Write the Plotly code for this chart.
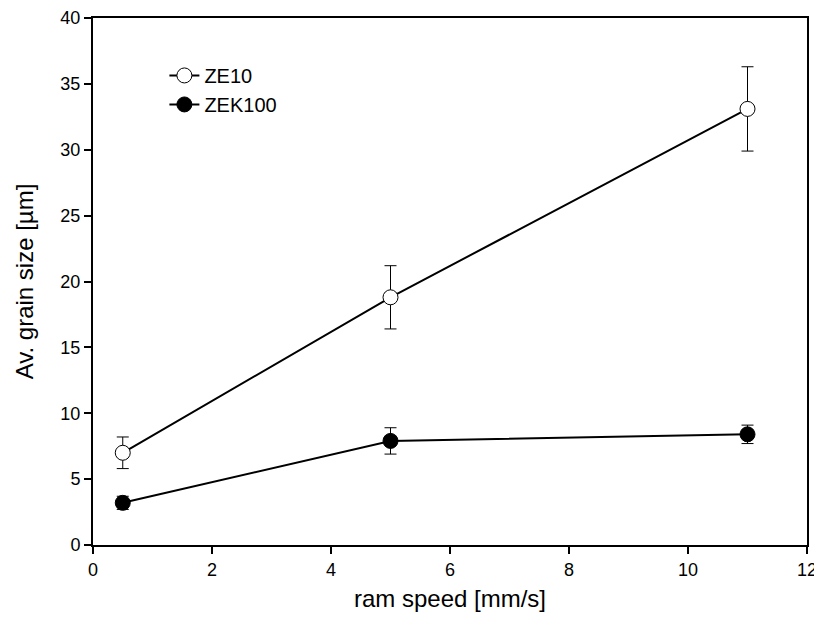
import plotly.graph_objects as go

ram_speed = [0.5, 5, 11]
ze10_size = [7.0, 18.8, 33.1]
ze10_err = [1.2, 2.4, 3.2]
zek100_size = [3.2, 7.9, 8.4]
zek100_err = [0.5, 1.0, 0.7]

FONT = "Liberation Sans, Arial, sans-serif"

fig = go.Figure()
fig.add_trace(go.Scatter(
    x=ram_speed, y=ze10_size, name="ZE10", mode="lines+markers",
    line=dict(color="black", width=2),
    marker=dict(symbol="circle", size=15, color="white", line=dict(color="black", width=1)),
    error_y=dict(type="data", array=ze10_err, color="black", thickness=1, width=6),
))
fig.add_trace(go.Scatter(
    x=ram_speed, y=zek100_size, name="ZEK100", mode="lines+markers",
    line=dict(color="black", width=2),
    marker=dict(symbol="circle", size=15, color="black", line=dict(color="black", width=1)),
    error_y=dict(type="data", array=zek100_err, color="black", thickness=1, width=6),
))

axis_common = dict(
    showline=True, linecolor="black", linewidth=2, mirror=True,
    ticks="outside", ticklen=7, tickwidth=1.5, tickcolor="black",
    showgrid=False, zeroline=False, automargin=False,
    tickfont=dict(family=FONT, size=18, color="black"),
)
fig.update_xaxes(range=[0, 12], dtick=2,
                 title=dict(text="ram speed [mm/s]", font=dict(family=FONT, size=24, color="black"), standoff=12),
                 **axis_common)
fig.update_yaxes(range=[0, 40], dtick=5,
                 title=dict(text="Av. grain size [µm]", font=dict(family=FONT, size=24, color="black"), standoff=20),
                 **axis_common)

# page body has an 8px default margin; size the figure so the plot frame lands
# where the reference frame is (x 93..807, y 18..545 in window pixels)
fig.update_layout(
    width=814, height=620,
    margin=dict(l=85, r=15, t=10, b=83),
    plot_bgcolor="white", paper_bgcolor="white",
    legend=dict(x=0.10, y=0.928, xanchor="left", yanchor="top",
                font=dict(family=FONT, size=20, color="black"),
                bgcolor="rgba(0,0,0,0)", tracegroupgap=0),
    showlegend=True,
)

fig.write_html("out.html")
